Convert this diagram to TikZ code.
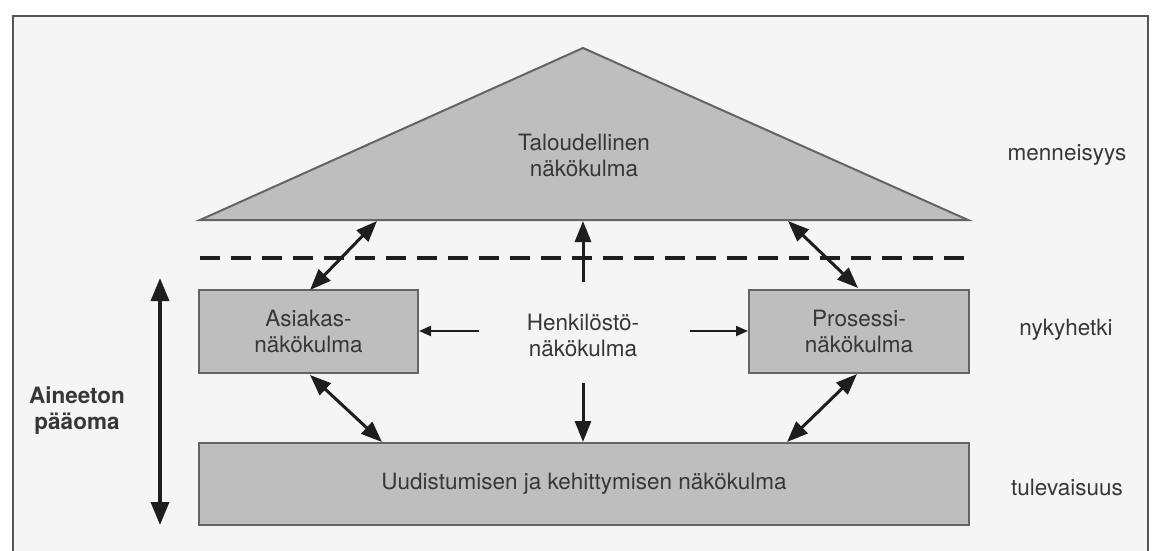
\documentclass[tikz,border=0pt]{standalone}
\usepackage{fontspec}
\setmainfont{TeX Gyre Heros}
\usetikzlibrary{arrows.meta}
\definecolor{txt}{RGB}{55,55,55}
\definecolor{boxfill}{RGB}{190,190,190}
\definecolor{boxline}{RGB}{100,100,100}
\definecolor{framecol}{RGB}{85,85,85}
\definecolor{bgcol}{RGB}{246,245,245}
\definecolor{arrcol}{RGB}{30,30,30}
\begin{document}
\begin{tikzpicture}[x=1pt,y=-1pt,
  lbl/.style={text=txt, font=\fontsize{22.5}{26}\selectfont, align=center, inner sep=0pt},
  pbox/.style={draw=boxline, line width=2pt, fill=boxfill, text=txt,
               font=\fontsize{22.5}{26}\selectfont, align=center, inner sep=0pt},
  bigarrow/.style={line width=3.5pt, draw=arrcol,
     {Triangle[length=23pt,width=18pt]}-{Triangle[length=23pt,width=18pt]}},
  dblarrow/.style={line width=3pt, draw=arrcol,
     {Triangle[length=21pt,width=16pt]}-{Triangle[length=21pt,width=16pt]}},
  onearrow/.style={line width=3pt, draw=arrcol, -{Triangle[length=21pt,width=16pt]}},
  smallarrow/.style={line width=2pt, draw=arrcol, -{Triangle[length=12pt,width=10pt]}},
  splitline/.style={line width=4pt, draw=arrcol, dash pattern=on 20pt off 11pt}
]
\useasboundingbox (0,0) rectangle (1152,551);
\fill[white] (0,0) rectangle (1152,551);
\draw[framecol, line width=2.5pt, fill=bgcol] (13,16) rectangle (1148,570);

% triangle
\coordinate (tl) at (200,220);
\coordinate (tt) at (583,48);
\coordinate (tr) at (968,220);
\draw[draw=boxline, line width=2pt, fill=boxfill, line join=miter] (tl) -- (tt) -- (tr) -- cycle;
\node[lbl] (talous) at (584,155) {Taloudellinen\\näkökulma};

% dashed separator
\coordinate (dl) at (200,258);
\coordinate (dr) at (970,258);
\draw[splitline] (dl) -- (dr);

% boxes
\node[pbox, minimum width=219pt, minimum height=83pt] (asiakas) at (308.5,331.5) {Asiakas-\\näkökulma};
\node[pbox, minimum width=220pt, minimum height=83pt] (prosessi) at (859,331.5) {Prosessi-\\näkökulma};
\node[pbox, minimum width=770pt, minimum height=82pt] (uudist) at (584,484) {Uudistumisen ja kehittymisen näkökulma};
\node[lbl] (henk) at (583,335) {Henkilöstö-\\näkökulma};

% side labels
\node[lbl] (menn) at (1067,155) {menneisyys};
\node[lbl] (nyky) at (1066,330) {nykyhetki};
\node[lbl] (tulev) at (1067,487) {tulevaisuus};
\node[lbl, font=\fontsize{22.5}{26}\selectfont\bfseries] (aineeton) at (77,411) {Aineeton\\pääoma};

% coordinates for arrow ends
\coordinate (a1) at (310,290);
\coordinate (a2) at (377,221);
\coordinate (b1) at (788,221);
\coordinate (b2) at (858,288);
\coordinate (c1) at (310,375);
\coordinate (c2) at (382,442);
\coordinate (d1) at (857,374);
\coordinate (d2) at (787,442);
\coordinate (up1) at (583,282);
\coordinate (up2) at (583,221);
\coordinate (dn1) at (583,383);
\coordinate (dn2) at (583,442);
\coordinate (hl) at (479,331);
\coordinate (hr) at (690,331);
\coordinate (v1) at (160,278);
\coordinate (v2) at (160,525);

% arrows
\draw[dblarrow] (a1) -- (a2);
\draw[dblarrow] (b1) -- (b2);
\draw[dblarrow] (c1) -- (c2);
\draw[dblarrow] (d1) -- (d2);
\draw[onearrow] (up1) -- (up2);
\draw[onearrow] (dn1) -- (dn2);
\draw[smallarrow] (hl) -- (hl -| asiakas.east);
\draw[smallarrow] (hr) -- (hr -| prosessi.west);
\draw[bigarrow] (v1) -- (v2);
\end{tikzpicture}
\end{document}
